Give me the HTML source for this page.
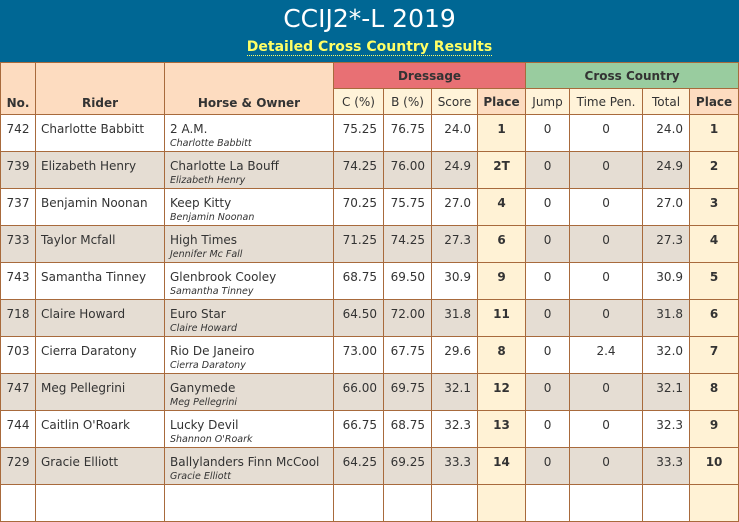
<!DOCTYPE html>
<html><head><meta charset="utf-8"><style>
html,body{margin:0;padding:0;width:739px;height:497px;overflow:hidden;background:#fff;font-family:"DejaVu Sans","Liberation Sans",sans-serif;}
#hdr{position:absolute;left:0;top:0;width:739px;height:62px;background:#006794;text-align:center;}
#title{position:absolute;left:0;right:0;top:4px;color:#fff;font-size:25px;line-height:30px;}
#sub{position:absolute;left:0;right:0;top:38px;font-size:14px;font-weight:bold;color:#ffff66;line-height:18px;}
#sub span{border-bottom:1px dotted #ffff66;}
table{position:absolute;left:0;top:62px;border-collapse:collapse;table-layout:fixed;width:739px;font-size:12px;color:#333;}
td,th{border:1px solid #a86a3c;padding:0;overflow:hidden;white-space:nowrap;}
th{background:#fddcc0;font-weight:bold;height:24px;}
th.n{font-weight:normal;background:#fff3d9;}
th.p{background:#fddcc0;}
th.d{background:#e87074;}
th.c{background:#99cc9f;}
td{height:37px;vertical-align:top;padding-top:7px;box-sizing:border-box;}
tr.alt td{background:#e5ddd3;}
td.l{padding-left:5px;text-align:left;}
td.r{text-align:right;padding-right:6px;}
td.c{text-align:center;}
td.pl{background:#fff2d5 !important;text-align:center;font-weight:bold;}
i{display:block;font-size:9.5px;margin-top:2px;}
th.b{vertical-align:bottom;padding-bottom:4px;}
</style></head><body>
<div id="hdr">
<div id="title">CCIJ2*-L 2019</div>
<div id="sub"><span>Detailed Cross Country Results</span></div>
</div>
<table>
<colgroup><col style="width:35px"><col style="width:129px"><col style="width:169px"><col style="width:50px"><col style="width:48px"><col style="width:46px"><col style="width:48px"><col style="width:44px"><col style="width:73px"><col style="width:47px"><col style="width:49px"></colgroup>
<tr style="height:26px">
<th rowspan="2" class="b">No.</th>
<th rowspan="2" class="b">Rider</th>
<th rowspan="2" class="b">Horse &amp; Owner</th>
<th colspan="4" class="d">Dressage</th>
<th colspan="4" class="c">Cross Country</th>
</tr>
<tr style="height:26px">
<th class="n">C (%)</th>
<th class="n">B (%)</th>
<th class="n">Score</th>
<th class="p">Place</th>
<th class="n">Jump</th>
<th class="n">Time Pen.</th>
<th class="n">Total</th>
<th class="p">Place</th>
</tr>
<tbody id="rows"></tbody>
</table>
<script>
const rows=[
["742","Charlotte Babbitt","2 A.M.","Charlotte Babbitt","75.25","76.75","24.0","1","0","0","24.0","1"],
["739","Elizabeth Henry","Charlotte La Bouff","Elizabeth Henry","74.25","76.00","24.9","2T","0","0","24.9","2"],
["737","Benjamin Noonan","Keep Kitty","Benjamin Noonan","70.25","75.75","27.0","4","0","0","27.0","3"],
["733","Taylor Mcfall","High Times","Jennifer Mc Fall","71.25","74.25","27.3","6","0","0","27.3","4"],
["743","Samantha Tinney","Glenbrook Cooley","Samantha Tinney","68.75","69.50","30.9","9","0","0","30.9","5"],
["718","Claire Howard","Euro Star","Claire Howard","64.50","72.00","31.8","11","0","0","31.8","6"],
["703","Cierra Daratony","Rio De Janeiro","Cierra Daratony","73.00","67.75","29.6","8","0","2.4","32.0","7"],
["747","Meg Pellegrini","Ganymede","Meg Pellegrini","66.00","69.75","32.1","12","0","0","32.1","8"],
["744","Caitlin O'Roark","Lucky Devil","Shannon O'Roark","66.75","68.75","32.3","13","0","0","32.3","9"],
["729","Gracie Elliott","Ballylanders Finn McCool","Gracie Elliott","64.25","69.25","33.3","14","0","0","33.3","10"],
["","","","","","","","","","","",""]
];
const tb=document.getElementById('rows');
rows.forEach((r,i)=>{
const tr=document.createElement('tr');


if(i%2)tr.className='alt';
tr.innerHTML=`<td class="c">${r[0]}</td><td class="l">${r[1]}</td><td class="l">${r[2]}${r[3]?'<i>'+r[3]+'</i>':''}</td><td class="r">${r[4]}</td><td class="r">${r[5]}</td><td class="r">${r[6]}</td><td class="pl">${r[7]}</td><td class="c">${r[8]}</td><td class="c">${r[9]}</td><td class="r">${r[10]}</td><td class="pl">${r[11]}</td>`;
tb.appendChild(tr);
});
</script>
</body></html>
